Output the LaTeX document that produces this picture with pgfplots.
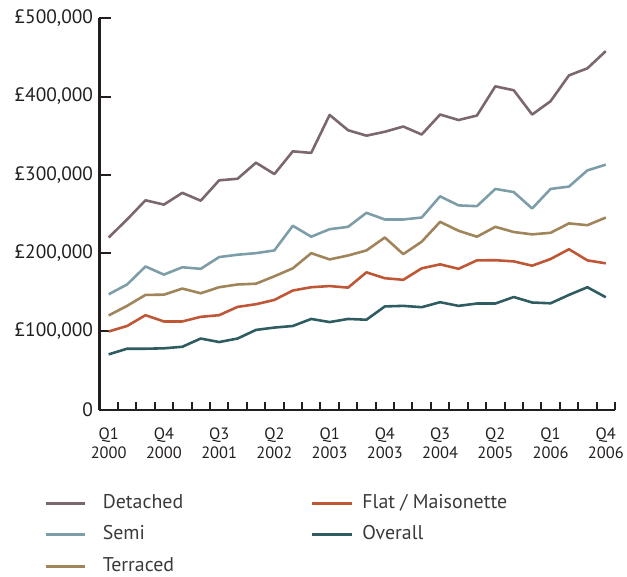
\documentclass[border=0pt]{standalone}
\usepackage{fontspec}
\setmainfont{PT Sans}
\usepackage{pgfplots}
\usepackage{pgfplotstable}
\pgfplotsset{compat=1.18}

\definecolor{cDet}{HTML}{7B676E}
\definecolor{cSemi}{HTML}{7D9EA9}
\definecolor{cTerr}{HTML}{A0845A}
\definecolor{cFlat}{HTML}{BF5736}
\definecolor{cAll}{HTML}{2E5C61}
\definecolor{cAxis}{HTML}{231F20}
\definecolor{cText}{HTML}{3A3A3A}

% Average price by property type, quarterly, in thousands of pounds
\pgfplotstableread{
q  det   semi  terr  flat  overall
0  220   147.5 120.5 100   70.8
1  243   160   132.7 107   78
2  267.5 183   146.7 120.8 78
3  262   172.6 147   112.8 78.5
4  277   182   154.8 112.8 80.5
5  267   180   148.8 118.7 91
6  293   195   156.5 120.8 86.5
7  295   198   160   131.4 91
8  315.5 200   161   134.8 102
9  301   203.5 170.5 140.3 105
10 330   235   180.6 152.3 107
11 328   221   200   156.5 116
12 376.5 230.6 192   158   112
13 357   233.6 197   156   116
14 350   251.5 203.5 175.5 115
15 355   243   220   168   132
16 361.7 243   198.8 166   132.7
17 351.5 245.5 214.6 180.6 131
18 377   272.6 240   185.7 137.4
19 370   261   228.6 180   132.7
20 375.7 260   221   190.8 135.7
21 413   282   233.6 191   135.7
22 408   278   227   189.5 144
23 377   257   224   184   137
24 394   282   226   192.5 136
25 427   285   238   205   146.7
26 436   305.7 235.7 190.8 156.5
27 458   313   245.5 187   143.7
}\prices

\begin{document}
\begin{tikzpicture}[x=1pt,y=1pt]
\path (0,0) rectangle (627,575);
\begin{axis}[
  at={(100pt,163pt)},
  width=518.3pt, height=393.7pt, scale only axis,
  xmin=-0.5, xmax=27.5, ymin=0, ymax=500,
  axis x line*=bottom, axis y line*=left,
  every non boxed x axis/.append style={xtick align=inside},
  every non boxed y axis/.append style={ytick align=inside},
  xtick align=inside, ytick align=inside,
  axis line style={-, line width=2.2pt, color=cAxis},
  tick style={line width=2pt, color=cAxis},
  major tick length=12pt, minor tick length=8pt,
  xtick={0,3,...,27},
  major x tick style={draw=none},
  minor xtick={0.5,1.5,...,27.5},
  xticklabels={Q1\\2000,Q4\\2000,Q3\\2001,Q2\\2002,Q1\\2003,Q4\\2003,Q3\\2004,Q2\\2005,Q1\\2006,Q4\\2006},
  xticklabel style={align=center, font=\fontsize{16.5}{18.5}\selectfont, color=cAxis, yshift=-15pt},
  ytick={0,100,...,500},
  yticklabels={0,{£100,000},{£200,000},{£300,000},{£400,000},{£500,000}},
  yticklabel style={font=\fontsize{19.5}{22}\selectfont, color=cAxis, xshift=-3pt},
  clip=false,
  every axis plot/.append style={line width=2.6pt, line join=round, no markers},
  legend columns=2,
  legend cell align=left,
  legend image code/.code={\draw[#1, line width=3pt] (0pt,0pt) -- (40pt,0pt);},
  legend style={at={(-0.1077,-0.213)}, anchor=north west, draw=none, fill=none,
    inner sep=0pt, column sep=16pt, row sep=11.7pt,
    font=\fontsize{20}{24}\selectfont, text=cText,
    nodes={inner sep=0pt, text height=15pt, text depth=5pt}},
]
\addplot[cDet]     table[x=q, y=det]     {\prices};
\addlegendentry{\makebox[193pt][l]{Detached}}
\addplot[cFlat]    table[x=q, y=flat]    {\prices};
\addlegendentry{\hspace*{-7pt}Flat / Maisonette}
\addplot[cSemi]    table[x=q, y=semi]    {\prices};
\addlegendentry{\makebox[193pt][l]{Semi}}
\addplot[cAll]     table[x=q, y=overall] {\prices};
\addlegendentry{\hspace*{-7pt}Overall}
\addplot[cTerr]    table[x=q, y=terr]    {\prices};
\addlegendentry{\makebox[193pt][l]{Terraced}}
\end{axis}
\end{tikzpicture}
\end{document}
